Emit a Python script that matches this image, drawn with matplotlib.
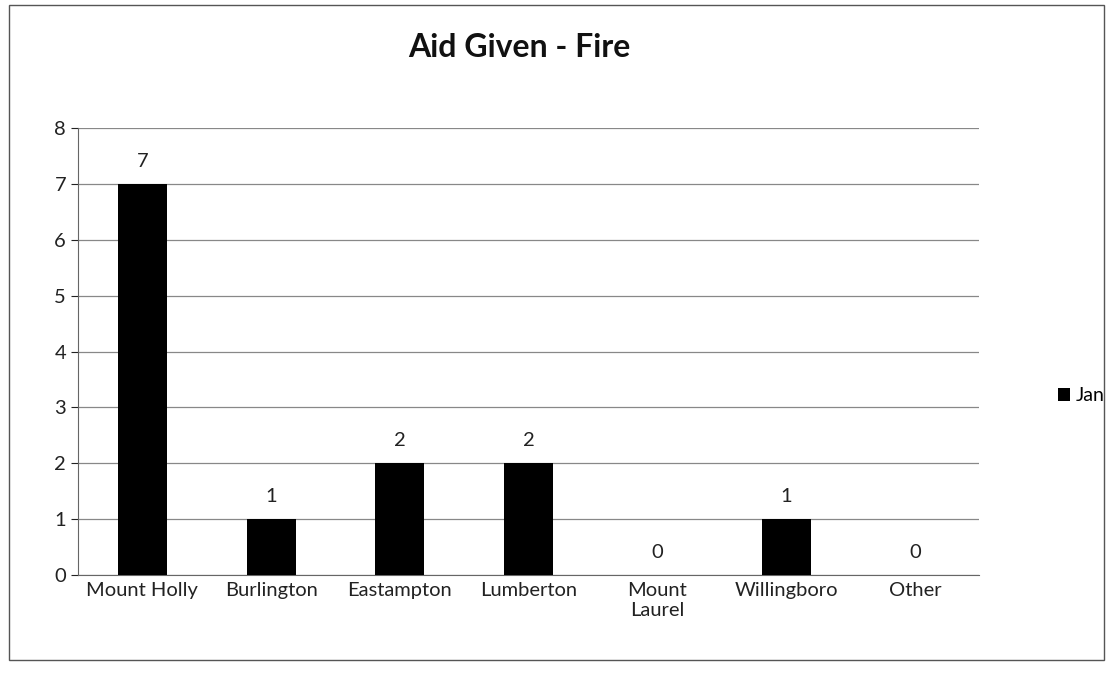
import matplotlib

matplotlib.use("Agg")
import matplotlib.pyplot as plt
from matplotlib.patches import Rectangle

plt.rcParams["font.family"] = ["Lato", "DejaVu Sans"]

categories = ["Mount Holly", "Burlington", "Eastampton", "Lumberton",
              "Mount\nLaurel", "Willingboro", "Other"]
jan_values = [7, 1, 2, 2, 0, 1, 0]
y_ticks = [0, 1, 2, 3, 4, 5, 6, 7, 8]

fig = plt.figure(figsize=(11.13, 6.78), dpi=100)
fig.patches.append(Rectangle((0.008, 0.027), 0.984, 0.965, transform=fig.transFigure,
                             fill=False, edgecolor="#555", linewidth=1.0))

ax = fig.add_axes([0.070, 0.152, 0.810, 0.659])
x = range(len(categories))
bars = ax.bar(x, jan_values, width=0.38, color="black", label="Jan", zorder=3)
for bar, val in zip(bars, jan_values):
    ax.text(bar.get_x() + bar.get_width() / 2, val + 0.25, str(val),
            ha="center", va="bottom", fontsize=14.5, color="#222")

ax.set_xlim(-0.5, len(categories) - 0.5)
ax.set_ylim(0, 8)
ax.set_yticks(y_ticks)
ax.tick_params(axis="y", labelsize=14.5, length=5, colors="#222")
ax.tick_params(axis="x", labelsize=14.5, length=0, pad=5, colors="#222")
ax.set_xticks(list(x))
ax.set_xticklabels(categories)
ax.grid(axis="y", color="#888", linewidth=0.9, zorder=0)
for side in ["top", "right"]:
    ax.spines[side].set_visible(False)
ax.spines["left"].set_color("#666")
ax.spines["bottom"].set_color("#666")

fig.text(0.467, 0.93, "Aid Given - Fire", ha="center", va="center",
         fontsize=23, fontweight="bold", color="#111")
fig.legend(handles=[bars], labels=["Jan"], loc="center left",
           bbox_to_anchor=(0.935, 0.416), frameon=False, fontsize=14,
           handlelength=0.6, handleheight=0.6, handletextpad=0.3)

fig.savefig("out.png", dpi=100)
